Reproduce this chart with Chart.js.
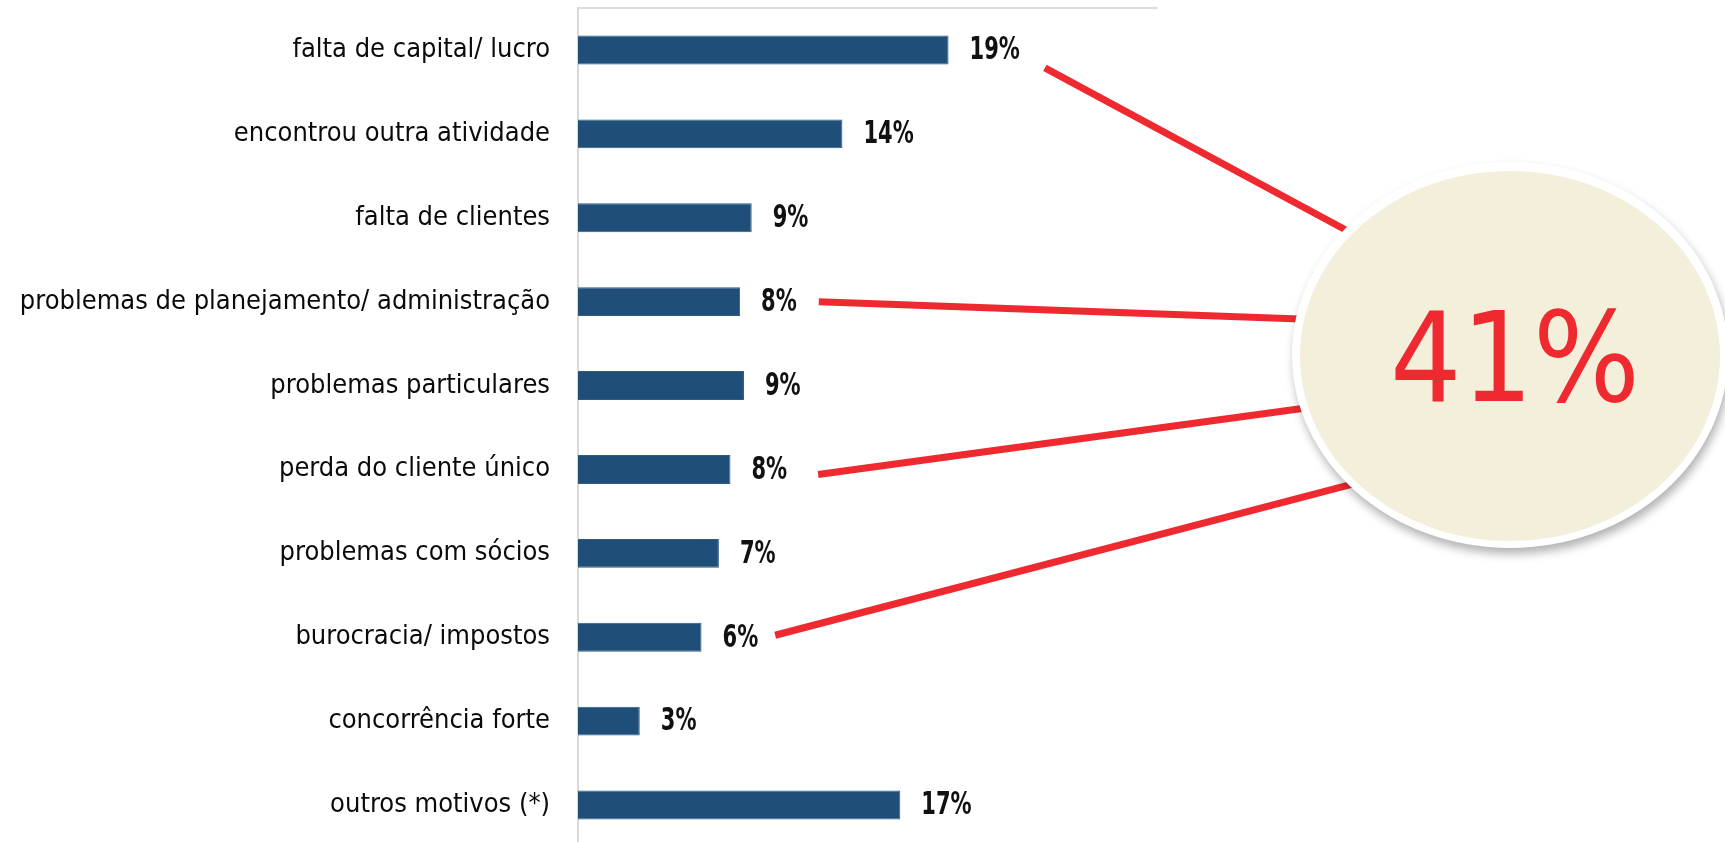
<!DOCTYPE html>
<html>
<head>
<meta charset="utf-8">
<script src="https://cdn.jsdelivr.net/npm/chart.js@4.4.1/dist/chart.umd.min.js"></script>
<style>
  html, body { margin: 0; padding: 0; background: #fff; overflow: hidden; }
  #wrap { width: 1725px; height: 850px; position: relative; }
</style>
</head>
<body>
<div id="wrap"><canvas id="chart"></canvas></div>
<script>
// motivos de fechamento
var categories = [
  'falta de capital/ lucro',
  'encontrou outra atividade',
  'falta de clientes',
  'problemas de planejamento/ administração',
  'problemas particulares',
  'perda do cliente único',
  'problemas com sócios',
  'burocracia/ impostos',
  'concorrência forte',
  'outros motivos (*)'
];
var values = [19.2, 13.7, 9.0, 8.4, 8.6, 7.9, 7.3, 6.4, 3.2, 16.7];
var valueLabels = ['19%', '14%', '9%', '8%', '9%', '8%', '7%', '6%', '3%', '17%'];
var totalLabel = '41%';

var barColor = '#1F4E79';
var red = '#EE2A30';
var labelFont = '"DejaVu Sans Condensed", "DejaVu Sans", sans-serif';

// which bars get a red line to the bubble (dx/dy = offset from label end, to = point on bubble)
var links = [
  { bar: 0, dx: 25, dy: 18, toX: -166, toY: -126 },
  { bar: 3, dx: 22, dy: 0, toX: -212, toY: -36 },
  { bar: 5, dx: 31, dy: 5, toX: -212, toY: 54 },
  { bar: 7, dx: 17, dy: -2, toX: -157, toY: 129 }
];

var valueFont = 'bold 32px ' + labelFont;
var squeeze = 0.73;   // value labels are narrow in the original
var labelGap = 21;

var valueLabelPlugin = {
  id: 'valueLabels',
  afterDatasetsDraw: function(chart) {
    var ctx = chart.ctx;
    var meta = chart.getDatasetMeta(0);
    ctx.font = valueFont;
    ctx.fillStyle = '#111';
    ctx.textAlign = 'left';
    ctx.textBaseline = 'middle';
    meta.data.forEach(function(bar, i) {
      ctx.save();
      ctx.translate(bar.x + labelGap, bar.y + 1);
      ctx.scale(squeeze, 1);
      ctx.fillText(valueLabels[i], 0, 0);
      ctx.restore();
    });
  }
};

var bubblePlugin = {
  id: 'bubble',
  afterDraw: function(chart) {
    var ctx = chart.ctx;
    var meta = chart.getDatasetMeta(0);
    var cx = 1510, cy = 355, rx = 218, ry = 193;
    ctx.save();
    ctx.font = valueFont;
    ctx.strokeStyle = red;
    ctx.lineWidth = 7;
    ctx.lineCap = 'butt';
    links.forEach(function(l) {
      var bar = meta.data[l.bar];
      var w = ctx.measureText(valueLabels[l.bar]).width * squeeze;
      var x0 = bar.x + labelGap + w + l.dx;
      var y0 = bar.y + l.dy;
      var x1 = cx + l.toX, y1 = cy + l.toY;
      var len = Math.hypot(x1 - x0, y1 - y0);
      x1 += (x1 - x0) / len * 30;
      y1 += (y1 - y0) / len * 30;
      ctx.beginPath();
      ctx.moveTo(x0, y0);
      ctx.lineTo(x1, y1);
      ctx.stroke();
    });

    // white rim with shadow
    ctx.shadowColor = 'rgba(0,0,0,0.3)';
    ctx.shadowBlur = 10;
    ctx.shadowOffsetX = 2;
    ctx.shadowOffsetY = 6;
    ctx.beginPath();
    ctx.ellipse(cx, cy, rx, ry, 0, 0, Math.PI * 2);
    ctx.fillStyle = '#fff';
    ctx.fill();
    ctx.shadowColor = 'transparent';
    ctx.beginPath();
    ctx.ellipse(cx, cy + 1, rx - 8, ry - 8, 0, 0, Math.PI * 2);
    ctx.fillStyle = '#F3EFDA';
    ctx.fill();

    ctx.fillStyle = red;
    ctx.font = '125px "DejaVu Sans Condensed", "DejaVu Sans", sans-serif';
    ctx.textAlign = 'center';
    ctx.textBaseline = 'alphabetic';
    ctx.fillText(totalLabel, cx + 5, cy + 46);
    ctx.restore();
  }
};

var ctx = document.getElementById('chart').getContext('2d');
var chart = new Chart(ctx, {
  type: 'bar',
  data: {
    labels: categories,
    datasets: [{
      data: values,
      backgroundColor: barColor,
      borderColor: '#2E5C86',
      borderWidth: 1,
      categoryPercentage: 1,
      barPercentage: 0.345
    }]
  },
  options: {
    indexAxis: 'y',
    responsive: true,
    maintainAspectRatio: false,
    animation: false,
    layout: { padding: { top: 0, right: 568, bottom: 3, left: 0 } },
    plugins: {
      legend: { display: false },
      tooltip: { enabled: false }
    },
    scales: {
      x: {
        position: 'top',
        min: 0,
        max: 30,
        grid: { display: false },
        ticks: { display: false },
        border: { display: true, color: '#DDDDDD', width: 2 }
      },
      y: {
        grid: { display: false },
        border: { display: true, color: '#D9D9D9', width: 2 },
        ticks: {
          color: '#0A0A0A',
          padding: 20,
          font: { family: labelFont, size: 27 }
        },
        afterFit: function(scale) {
          scale.width = 578;
          scale.paddingTop = 0;
          scale.paddingBottom = 0;
        }
      }
    }
  },
  plugins: [valueLabelPlugin, bubblePlugin]
});
</script>
</body>
</html>
